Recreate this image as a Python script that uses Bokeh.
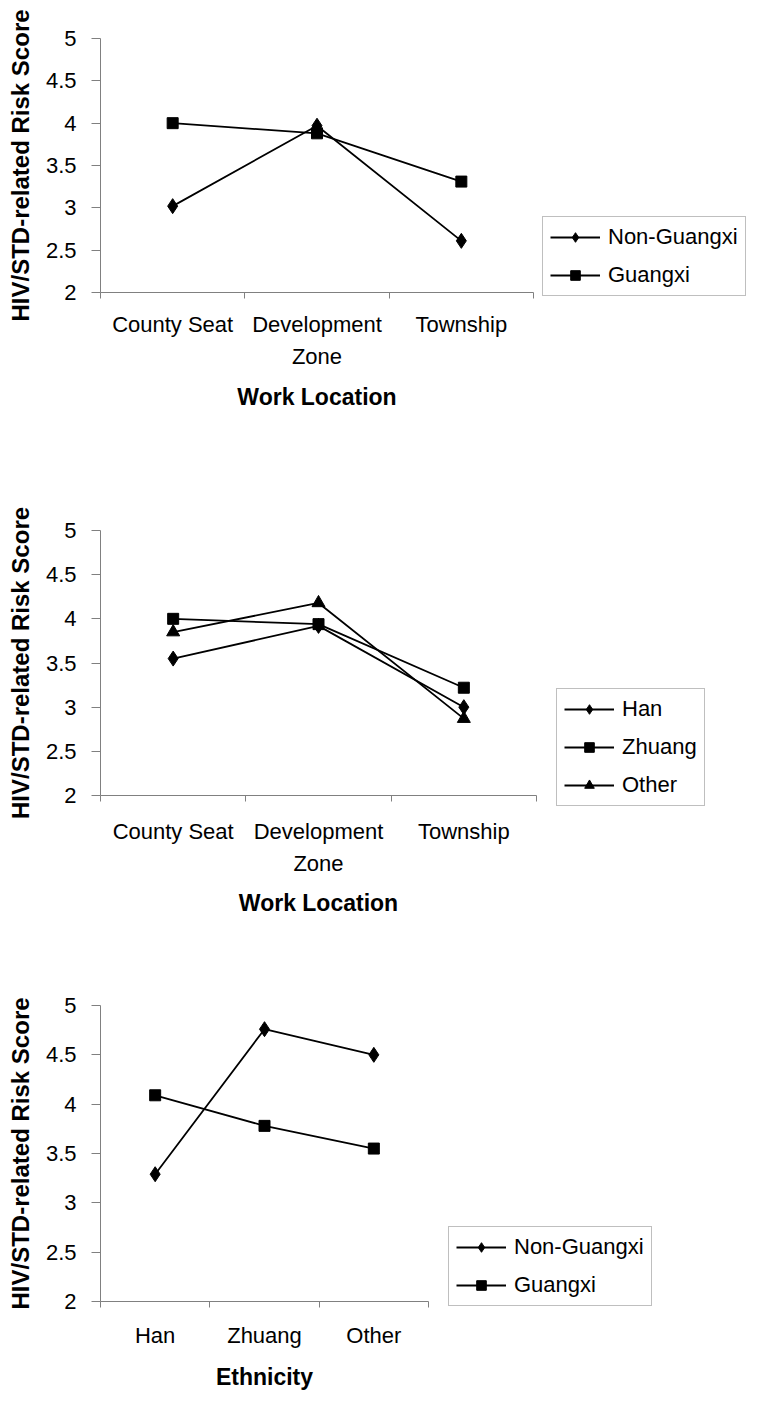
from bokeh.plotting import figure
from bokeh.models import Legend, LegendItem, FixedTicker, NumeralTickFormatter, Range1d
from bokeh.layouts import column
from bokeh.embed import file_html
from bokeh.resources import INLINE

# ---------------- data ----------------
loc_categories = ["County Seat", "Development\nZone", "Township"]
eth_categories = ["Han", "Zhuang", "Other"]
y_ticks = [2, 2.5, 3, 3.5, 4, 4.5, 5]

p1_non_guangxi = [3.02, 3.97, 2.61]
p1_guangxi = [4.00, 3.88, 3.31]

p2_han = [3.55, 3.92, 3.00]
p2_zhuang = [4.00, 3.94, 3.22]
p2_other = [3.85, 4.18, 2.87]

p3_non_guangxi = [3.29, 4.76, 4.50]
p3_guangxi = [4.09, 3.78, 3.55]

FONT = "Liberation Sans"
GRAY = "#808080"

MARKERS = {
    "diamond": dict(marker="diamond", size=15),
    "square": dict(marker="square", size=11),
    "triangle": dict(marker="triangle", size=13),
}


def make_panel(cats, series, xlabel, fw, fh, bl, bt, bb, br, leg_loc,
               lab_standoff, title_standoff):
    n = len(cats)
    xs = [i + 0.5 for i in range(n)]
    p = figure(frame_width=fw, frame_height=fh, output_backend="svg",
               toolbar_location=None, x_range=Range1d(0, n), y_range=Range1d(2, 5),
               min_border_left=bl, min_border_top=bt, min_border_bottom=bb,
               min_border_right=br)
    p.outline_line_color = None
    p.xgrid.visible = False
    p.ygrid.visible = False
    p.background_fill_color = "white"
    p.border_fill_color = "white"

    items = []
    for name, vals, mk in series:
        lr = p.line(xs, vals, line_color="black", line_width=1.8)
        sr = p.scatter(xs, vals, color="black", **MARKERS[mk])
        items.append(LegendItem(label=name, renderers=[lr, sr]))

    # x axis
    xa = p.xaxis[0]
    xa.ticker = FixedTicker(ticks=xs, minor_ticks=list(range(n + 1)))
    xa.major_label_overrides = {x: c for x, c in zip(xs, cats)}
    xa.major_tick_out = 0
    xa.major_tick_in = 0
    xa.minor_tick_out = 6
    xa.minor_tick_in = 0
    xa.minor_tick_line_color = GRAY
    xa.axis_line_color = GRAY
    xa.major_label_text_font = FONT
    xa.major_label_text_font_size = "22px"
    xa.major_label_text_color = "black"
    xa.major_label_text_line_height = 1.28
    xa.major_label_standoff = lab_standoff
    xa.axis_label = xlabel
    xa.axis_label_text_font = FONT
    xa.axis_label_text_font_size = "23px"
    xa.axis_label_text_font_style = "bold"
    xa.axis_label_text_color = "black"
    xa.axis_label_standoff = title_standoff

    # y axis
    ya = p.yaxis[0]
    ya.ticker = FixedTicker(ticks=y_ticks, minor_ticks=[])
    ya.formatter = NumeralTickFormatter(format="0.[0]")
    ya.major_tick_out = 9
    ya.major_tick_in = 0
    ya.major_tick_line_color = GRAY
    ya.axis_line_color = GRAY
    ya.major_label_text_font = FONT
    ya.major_label_text_font_size = "22px"
    ya.major_label_text_color = "black"
    ya.major_label_standoff = 15
    ya.axis_label = "HIV/STD-related Risk Score"
    ya.axis_label_text_font = FONT
    ya.axis_label_text_font_size = "24px"
    ya.axis_label_text_font_style = "bold"
    ya.axis_label_text_color = "black"
    ya.axis_label_standoff = 9

    leg = Legend(items=items, location=leg_loc)
    leg.label_text_font = FONT
    leg.label_text_font_size = "22px"
    leg.label_text_color = "black"
    leg.glyph_width = 50
    leg.glyph_height = 24
    leg.label_height = 24
    leg.label_standoff = 8
    leg.spacing = 12
    leg.padding = 7
    leg.margin = 0
    leg.border_line_color = GRAY
    leg.border_line_width = 1.2
    leg.background_fill_color = "white"
    leg.background_fill_alpha = 1.0
    p.add_layout(leg, "right")
    return p


p1 = make_panel(loc_categories,
                [("Non-Guangxi", p1_non_guangxi, "diamond"),
                 ("Guangxi", p1_guangxi, "square")],
                "Work Location", 433, 254, 99, 38, 128, 213, (9, -4), 13, 12)
p2 = make_panel(loc_categories,
                [("Han", p2_han, "diamond"),
                 ("Zhuang", p2_zhuang, "square"),
                 ("Other", p2_other, "triangle")],
                "Work Location", 436, 265, 100, 110, 125, 209, (20, -11), 17, 11)
p3 = make_panel(eth_categories,
                [("Non-Guangxi", p3_non_guangxi, "diamond"),
                 ("Guangxi", p3_guangxi, "square")],
                "Ethnicity", 328, 296, 100, 85, 95, 317, (20, -5), 15, 13)

layout = column(p1, p2, p3, spacing=0)
open("out.html", "w").write(file_html(layout, INLINE))
